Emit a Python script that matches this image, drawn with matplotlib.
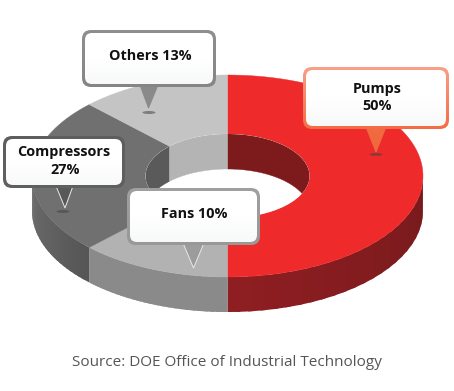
import numpy as np
import matplotlib
matplotlib.use("Agg")
import matplotlib.pyplot as plt
from matplotlib.colors import to_rgb, LinearSegmentedColormap
from matplotlib.patches import Polygon, Ellipse, FancyBboxPatch

# clockwise from 12 o'clock; the drawn spans are not to scale with the shares
slice_names = ["Pumps", "Fans", "Compressors", "Others"]
slice_shares = [50, 10, 27, 13]
slice_spans = [180, 45, 90, 45]

top_colors = ["#ee2a2a", "#b1b2b1", "#707070", "#c4c4c4"]
wall_colors = ["#7d1a1c", "#b1b2b1", "#5a5a5a", "#b3b4b3"]
side_from = ["#771a1c", "#8a8a8a", "#565656", "#777777"]
side_to = ["#8f1e22", "#8a8a8a", "#707070", "#777777"]

source_text = "Source: DOE Office of Industrial Technology"

CX, CY = 227.5, 176
RX, RY = 195.5, 101
IRX, IRY = 82, 42
DEPTH = 35

plt.rcParams["font.family"] = "Open Sans"


def arc(t0, t1, rx, ry, dy=0, n=80):
    t = np.radians(np.linspace(t0, t1, n))
    return np.column_stack([CX + rx * np.sin(t), CY + dy - ry * np.cos(t)])


def mix(c0, c1, f):
    c0, c1 = np.array(to_rgb(c0)), np.array(to_rgb(c1))
    return tuple(c0 + (c1 - c0) * f)


def callout(x0, y0, x1, y1, edge0, edge1, tail, tip, tail_col, outline=None, shadow=None):
    # pointer first so the box sits over its root
    tri = Polygon(tail + [tip], closed=True, fc=tail_col, ec=outline or tail_col, lw=0.7, zorder=6)
    ax.add_patch(tri)
    if shadow:
        ax.add_patch(Ellipse(shadow, 13, 3, fc="#444444", ec="none", alpha=0.55, zorder=5))
    # border with vertical gradient
    outer = FancyBboxPatch((x0 + 6, y0 + 6), x1 - x0 - 12, y1 - y0 - 12,
                           boxstyle="round,pad=6,rounding_size=9", fc="none", ec="none", zorder=7)
    ax.add_patch(outer)
    cm = LinearSegmentedColormap.from_list("e", [edge0, edge1])
    im = ax.imshow(np.linspace(0, 1, 50).reshape(-1, 1), cmap=cm, extent=(x0, x1, y1, y0),
                   aspect="auto", zorder=7)
    im.set_clip_path(outer)
    inner = FancyBboxPatch((x0 + 9, y0 + 9), x1 - x0 - 18, y1 - y0 - 18,
                           boxstyle="round,pad=6,rounding_size=7", fc="none", ec="none", zorder=8)
    ax.add_patch(inner)
    cm2 = LinearSegmentedColormap.from_list("f", ["#ffffff", "#ffffff", "#f7f8f8"])
    im2 = ax.imshow(np.linspace(0, 1, 50).reshape(-1, 1), cmap=cm2, extent=(x0, x1, y1, y0),
                    aspect="auto", zorder=8)
    im2.set_clip_path(inner)


fig = plt.figure(figsize=(4.54, 3.91), dpi=100)
ax = fig.add_axes([0, 0, 1, 1])

edges = np.concatenate([[0], np.cumsum(slice_spans)])

# outer side wall, front half only; strips overlap to hide seams
for i in range(len(slice_names)):
    t0, t1 = max(edges[i], 90), min(edges[i + 1], 270)
    if t1 <= t0:
        continue
    steps = np.linspace(t0, t1, 25)
    for a, b in zip(steps[:-1], steps[1:]):
        f = (a - t0) / (t1 - t0)
        col = mix(side_from[i], side_to[i], f)
        end = min(b + 1.5, t1)
        pts = np.vstack([arc(a, end, RX, RY, 0, 6), arc(end, a, RX, RY, DEPTH, 6)])
        ax.add_patch(Polygon(pts, closed=True, fc=col, ec="none", zorder=1))

# top face
for i in range(len(slice_names)):
    pts = np.vstack([arc(edges[i], edges[i + 1], RX, RY), arc(edges[i + 1], edges[i], IRX, IRY)])
    ax.add_patch(Polygon(pts, closed=True, fc=top_colors[i], ec=top_colors[i], lw=0.3, zorder=2))

# hole and its back wall
hole = Ellipse((CX, CY), 2 * IRX, 2 * IRY, fc="white", ec="none", zorder=3)
ax.add_patch(hole)
for i in range(len(slice_names)):
    for lo, hi in [(0, 90), (270, 360)]:
        t0, t1 = max(edges[i], lo), min(edges[i + 1], hi)
        if t1 <= t0:
            continue
        pts = np.vstack([arc(t0, t1, IRX, IRY), arc(t1, t0, IRX, IRY, DEPTH)])
        wall = Polygon(pts, closed=True, fc=wall_colors[i], ec=wall_colors[i], lw=0.3, zorder=4)
        ax.add_patch(wall)
        wall.set_clip_path(hole)

callout(303, 67, 449, 129, "#f9a086", "#f46c45", [(366, 127), (386, 127)], (376, 152), "#f0693f",
        shadow=(376, 154.5))
callout(82, 30, 216, 87, "#8f8f8f", "#858585", [(140, 85), (158, 85)], (148.5, 108), "#8a8a8a",
        shadow=(149, 112.5))
callout(3, 136, 125, 188, "#5e5e5e", "#606060", [(56, 186), (73, 186)], (65, 208), "#585858",
        outline="#e8e8e8", shadow=(63, 211.5))
callout(127, 188, 260, 245, "#a0a0a0", "#989898", [(183, 243), (204, 243)], (193.5, 268), "#9c9c9c",
        outline="#e8e8e8")

label_kw = dict(ha="center", va="center", fontsize=10.4, fontweight="bold", color="#111111", zorder=9)
ax.text(150, 55.5, f"{slice_names[3]} {slice_shares[3]}%", **label_kw)
ax.text(377.5, 89, slice_names[0], **label_kw)
ax.text(377.5, 106, f"{slice_shares[0]}%", **label_kw)
ax.text(63.5, 152, slice_names[2], **label_kw)
ax.text(65, 170, f"{slice_shares[2]}%", **label_kw)
ax.text(194, 214.5, f"{slice_names[1]} {slice_shares[1]}%", **label_kw)

ax.text(227, 362.5, source_text, ha="center", va="center", fontsize=11, color="#555555", zorder=9)

ax.set_xlim(0, 454)
ax.set_ylim(391, 0)
ax.axis("off")

fig.savefig("out.png", dpi=100, facecolor="white")
